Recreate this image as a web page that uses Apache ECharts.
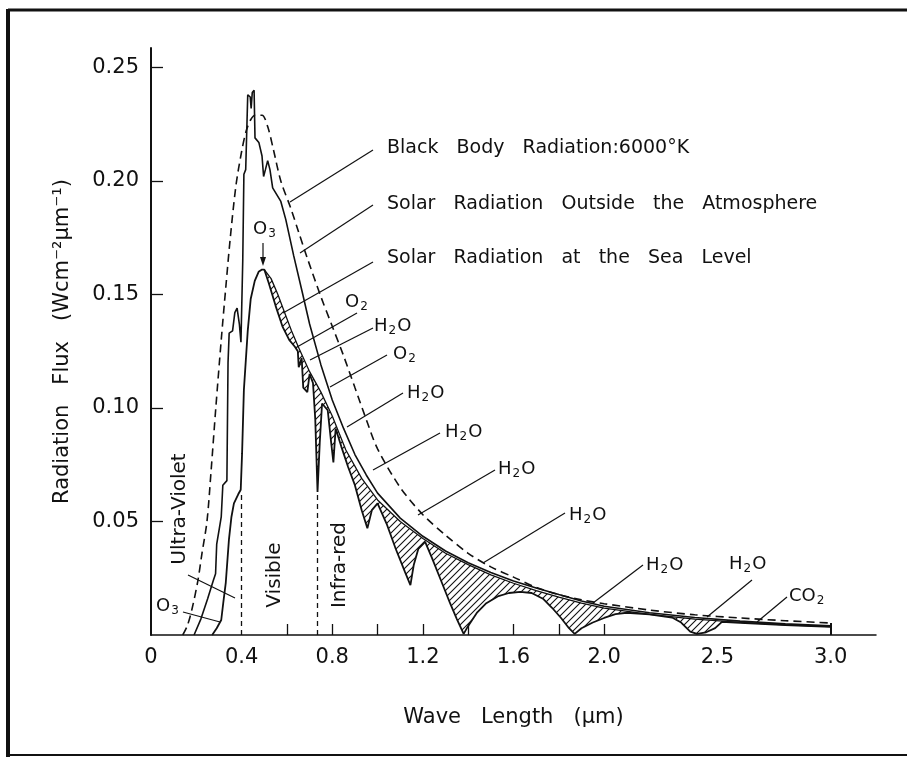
<!DOCTYPE html>
<html>
<head>
<meta charset="utf-8">
<script src="https://cdn.jsdelivr.net/npm/echarts@6/dist/echarts.min.js"></script>
<style>
  html, body { margin: 0; background: #fff; }
  #main { width: 907px; height: 776px; }
</style>
</head>
<body>
<div id="main"></div>
<script>
// black body radiation 6000 K (dashed)
const bbX = [0.14, 0.16, 0.18, 0.207, 0.225, 0.247, 0.265, 0.286, 0.31, 0.33, 0.35, 0.375, 0.40, 0.42, 0.44, 0.46, 0.49, 0.515, 0.54, 0.573, 0.617, 0.65, 0.69, 0.75, 0.80, 0.85, 0.90, 0.95, 1.0, 1.1, 1.2, 1.3, 1.4, 1.5, 1.6, 1.7, 1.8, 1.9, 2.0, 2.2, 2.4, 2.6, 2.8, 3.0]
const bbY = [0, 0.004, 0.011, 0.024, 0.036, 0.05, 0.072, 0.10, 0.13, 0.153, 0.175, 0.198, 0.213, 0.222, 0.227, 0.229, 0.229, 0.224, 0.214, 0.20, 0.188, 0.178, 0.166, 0.149, 0.136, 0.123, 0.109, 0.095, 0.082, 0.065, 0.053, 0.044, 0.036, 0.030, 0.0255, 0.021, 0.0178, 0.0155, 0.0138, 0.011, 0.0089, 0.0075, 0.0063, 0.0053]

// solar radiation outside the atmosphere
const outX = [0.19, 0.22, 0.25, 0.275, 0.285, 0.29, 0.30, 0.31, 0.317, 0.335, 0.34, 0.345, 0.36, 0.37, 0.38, 0.39, 0.397, 0.405, 0.41, 0.418, 0.427, 0.438, 0.442, 0.447, 0.455, 0.459, 0.476, 0.49, 0.497, 0.505, 0.515, 0.525, 0.537, 0.555, 0.573, 0.595, 0.63, 0.67, 0.70, 0.75, 0.80, 0.85, 0.90, 0.95, 1.0, 1.1, 1.2, 1.3, 1.4, 1.5, 1.6, 1.7, 1.8, 1.9, 2.0, 2.2, 2.4, 2.6, 2.8, 3.0]
const outY = [0, 0.007, 0.016, 0.024, 0.027, 0.040, 0.046, 0.052, 0.066, 0.068, 0.120, 0.133, 0.134, 0.142, 0.144, 0.137, 0.129, 0.165, 0.203, 0.205, 0.238, 0.237, 0.232, 0.239, 0.240, 0.219, 0.217, 0.211, 0.202, 0.205, 0.209, 0.205, 0.197, 0.194, 0.191, 0.183, 0.167, 0.150, 0.137, 0.119, 0.1035, 0.091, 0.0795, 0.0705, 0.0625, 0.0515, 0.0435, 0.037, 0.0318, 0.0275, 0.0238, 0.0207, 0.0178, 0.015, 0.0127, 0.0098, 0.0077, 0.0061, 0.0049, 0.004]

// sea level curve without absorption bands (top of hatching)
const envX = [0.50, 0.53, 0.56, 0.59, 0.62, 0.65, 0.70, 0.75, 0.80, 0.86, 0.93, 1.0, 1.1, 1.2, 1.3, 1.4, 1.5, 1.6, 1.7, 1.8, 1.9, 2.0, 2.2, 2.4, 2.6, 2.8, 3.0]
const envY = [0.161, 0.157, 0.150, 0.142, 0.134, 0.127, 0.116, 0.107, 0.0965, 0.0815, 0.069, 0.0595, 0.050, 0.0425, 0.036, 0.031, 0.0265, 0.0228, 0.0196, 0.0167, 0.014, 0.0118, 0.0091, 0.007, 0.0056, 0.0045, 0.0037]

// solar radiation at the sea level
const seaX = [0.27, 0.29, 0.31, 0.32, 0.33, 0.344, 0.355, 0.366, 0.385, 0.396, 0.402, 0.41, 0.427, 0.44, 0.458, 0.475, 0.49, 0.50, 0.52, 0.55, 0.58, 0.61, 0.635, 0.648, 0.652, 0.66, 0.665, 0.672, 0.69, 0.70, 0.715, 0.725, 0.735, 0.745, 0.755, 0.78, 0.795, 0.805, 0.815, 0.84, 0.87, 0.90, 0.93, 0.955, 0.975, 1.0, 1.04, 1.08, 1.12, 1.145, 1.16, 1.18, 1.21, 1.24, 1.28, 1.32, 1.35, 1.38, 1.40, 1.44, 1.48, 1.53, 1.58, 1.63, 1.68, 1.73, 1.77, 1.81, 1.845, 1.87, 1.90, 1.95, 2.0, 2.05, 2.10, 2.2, 2.3, 2.34, 2.38, 2.41, 2.45, 2.49, 2.52, 2.6, 2.8, 3.0]
const seaY = [0, 0.003, 0.0066, 0.015, 0.023, 0.042, 0.052, 0.058, 0.062, 0.064, 0.08, 0.108, 0.134, 0.148, 0.156, 0.160, 0.161, 0.161, 0.155, 0.145, 0.136, 0.130, 0.127, 0.125, 0.118, 0.118, 0.122, 0.109, 0.107, 0.115, 0.111, 0.095, 0.063, 0.085, 0.102, 0.099, 0.085, 0.076, 0.091, 0.083, 0.074, 0.066, 0.055, 0.047, 0.055, 0.058, 0.049, 0.038, 0.028, 0.022, 0.031, 0.038, 0.041, 0.034, 0.024, 0.014, 0.007, 0.0005, 0.004, 0.010, 0.014, 0.017, 0.0185, 0.019, 0.0185, 0.016, 0.012, 0.0075, 0.003, 0.0005, 0.003, 0.0055, 0.0075, 0.0092, 0.0098, 0.0091, 0.0077, 0.0055, 0.0015, 0.0005, 0.0012, 0.003, 0.0058, 0.0054, 0.0044, 0.0036]

const xLabels = [0, 0.4, 0.8, 1.2, 1.6, 2.0, 2.5, 3.0]
const xTicks = [0.6, 0.8, 1.0, 1.2, 1.4, 1.6, 1.8, 2.0]
const yLabels = [0.05, 0.10, 0.15, 0.20, 0.25]

const zip = (xs, ys) => xs.map((x, i) => [x, ys[i]])

function hatchCanvas() {
  const c = document.createElement('canvas')
  c.width = 7; c.height = 7
  const g = c.getContext('2d')
  g.strokeStyle = '#111'
  g.lineWidth = 1.1
  g.beginPath()
  g.moveTo(0, 7); g.lineTo(7, 0)
  g.moveTo(-1, 1); g.lineTo(1, -1)
  g.moveTo(6, 8); g.lineTo(8, 6)
  g.stroke()
  return c
}
const hatch = hatchCanvas()

const FONT = 'DejaVu Sans'
const ink = '#111'

let myChart = echarts.init(document.getElementById('main'))

// text annotations (pixel positions)
const sub = { n: { fontSize: 18, fontFamily: FONT, fill: ink }, s: { fontSize: 12, fontFamily: FONT, fill: ink, padding: [10, 1, 0, 1] } }
function chem(txt, x, y) {
  return { type: 'text', x: x, y: y, z: 50, style: { text: txt, rich: sub, fill: ink, verticalAlign: 'middle', align: 'left' } }
}
function words(txt, x, y, size) {
  return { type: 'text', x: x, y: y, z: 50, style: { text: txt, fontSize: size, fontFamily: FONT, fill: ink, verticalAlign: 'middle', align: 'left' } }
}
function vword(txt, x, y) {
  return { type: 'text', x: x, y: y, rotation: Math.PI / 2, z: 50, style: { text: txt, fontSize: 20, fontFamily: FONT, fill: ink, verticalAlign: 'middle', align: 'center' } }
}
const leaders = [
  [373, 150, 290, 202], [373, 205, 300, 253], [373, 262, 283, 313],
  [357, 313, 297, 347], [373, 328, 310, 360], [387, 355, 330, 387],
  [403, 393, 347, 427], [440, 433, 373, 470], [495, 470, 418, 515],
  [565, 513, 483, 563], [643, 565, 593, 603], [752, 580, 707, 617],
  [787, 597, 757, 622], [188, 575, 235, 598], [183, 612, 220, 622],
  [263, 243, 263, 263]
]

const graphic = leaders.map(l => ({
  type: 'line', z: 50, shape: { x1: l[0], y1: l[1], x2: l[2], y2: l[3] },
  style: { stroke: ink, lineWidth: 1.2 }
})).concat([
  words('Black   Body   Radiation:6000°K', 387, 148, 19),
  words('Solar   Radiation   Outside   the   Atmosphere', 387, 204, 19),
  words('Solar   Radiation   at   the   Sea   Level', 387, 258, 19),
  chem('{n|O}{s|3}', 253, 229),
  chem('{n|O}{s|2}', 345, 302),
  chem('{n|H}{s|2}{n|O}', 374, 326),
  chem('{n|O}{s|2}', 393, 354),
  chem('{n|H}{s|2}{n|O}', 407, 393),
  chem('{n|H}{s|2}{n|O}', 445, 432),
  chem('{n|H}{s|2}{n|O}', 498, 469),
  chem('{n|H}{s|2}{n|O}', 569, 515),
  chem('{n|H}{s|2}{n|O}', 646, 565),
  chem('{n|H}{s|2}{n|O}', 729, 564),
  chem('{n|CO}{s|2}', 789, 596),
  chem('{n|O}{s|3}', 156, 606),
  vword('Ultra-Violet', 180, 509),
  vword('Visible', 275, 575),
  vword('Infra-red', 340, 565),
  { type: 'polygon', z: 50, shape: { points: [[263, 266], [260, 257], [266, 257]] }, style: { fill: ink } },
  // frame
  { type: 'line', shape: { x1: 8, y1: 9, x2: 8, y2: 757 }, style: { stroke: ink, lineWidth: 4 } },
  { type: 'line', shape: { x1: 8, y1: 10, x2: 907, y2: 10 }, style: { stroke: ink, lineWidth: 3 } },
  { type: 'line', shape: { x1: 8, y1: 755, x2: 907, y2: 755 }, style: { stroke: ink, lineWidth: 2 } }
])

myChart.setOption({
  animation: false,
  backgroundColor: '#fff',
  grid: { left: 151, top: 48, right: 31, bottom: 141 },
  xAxis: {
    type: 'value', min: 0, max: 3.2,
    name: 'Wave   Length   (µm)', nameLocation: 'middle', nameGap: 72,
    nameTextStyle: { fontSize: 21, fontFamily: FONT, color: ink },
    axisLine: { lineStyle: { color: ink, width: 1.5 } },
    axisTick: { show: true, inside: true, length: 11, customValues: xTicks, lineStyle: { color: ink, width: 1.3 } },
    axisLabel: {
      customValues: xLabels, margin: 12, fontSize: 21, fontFamily: FONT, color: ink,
      formatter: v => v === 0 ? '0' : v.toFixed(1)
    },
    splitLine: { show: false }
  },
  yAxis: {
    type: 'value', min: 0, max: 0.2586,
    name: 'Radiation   Flux   (Wcm⁻²µm⁻¹)', nameLocation: 'middle', nameGap: 78, nameRotate: 90,
    nameTextStyle: { fontSize: 21, fontFamily: FONT, color: ink },
    axisLine: { show: true, lineStyle: { color: ink, width: 2 } },
    axisTick: { show: true, inside: true, length: 12, customValues: yLabels, lineStyle: { color: ink, width: 1.3 } },
    axisLabel: {
      customValues: yLabels, margin: 12, fontSize: 21, fontFamily: FONT, color: ink,
      formatter: v => v.toFixed(2)
    },
    splitLine: { show: false }
  },
  series: [
    {
      name: 'hatch', type: 'custom', z: 1, silent: true, data: [[0, 0]],
      renderItem: (params, api) => {
        const top = envX.map((x, i) => api.coord([x, envY[i]]))
        const bot = []
        for (let i = seaX.length - 1; i >= 0; i--) {
          if (seaX[i] >= 0.5) bot.push(api.coord([seaX[i], seaY[i]]))
        }
        return { type: 'polygon', shape: { points: top.concat(bot) }, style: { fill: { image: hatch, repeat: 'repeat' }, stroke: null } }
      }
    },
    {
      name: 'Black Body Radiation: 6000°K', type: 'line', z: 3, symbol: 'none', smooth: 0.3,
      data: zip(bbX, bbY),
      lineStyle: { color: ink, width: 1.6, type: [8, 5] },
      markLine: {
        silent: true, symbol: 'none', label: { show: false },
        lineStyle: { color: ink, width: 1.3, type: [5, 4] },
        data: [
          [{ coord: [0.4, 0] }, { coord: [0.4, 0.062] }],
          [{ coord: [0.735, 0] }, { coord: [0.735, 0.063] }],
          [{ coord: [3.0, 0] }, { coord: [3.0, 0.0053], lineStyle: { type: 'solid', width: 2 } }]
        ]
      }
    },
    {
      name: 'Solar Radiation Outside the Atmosphere', type: 'line', z: 3, symbol: 'none',
      data: zip(outX, outY),
      lineStyle: { color: ink, width: 1.6 }
    },
    {
      name: 'envelope', type: 'line', z: 3, symbol: 'none',
      data: zip(envX, envY),
      lineStyle: { color: ink, width: 1.3 }
    },
    {
      name: 'Solar Radiation at the Sea Level', type: 'line', z: 3, symbol: 'none',
      data: zip(seaX, seaY),
      lineStyle: { color: ink, width: 1.8 }
    }
  ],
  graphic: graphic
})
</script>
</body>
</html>
